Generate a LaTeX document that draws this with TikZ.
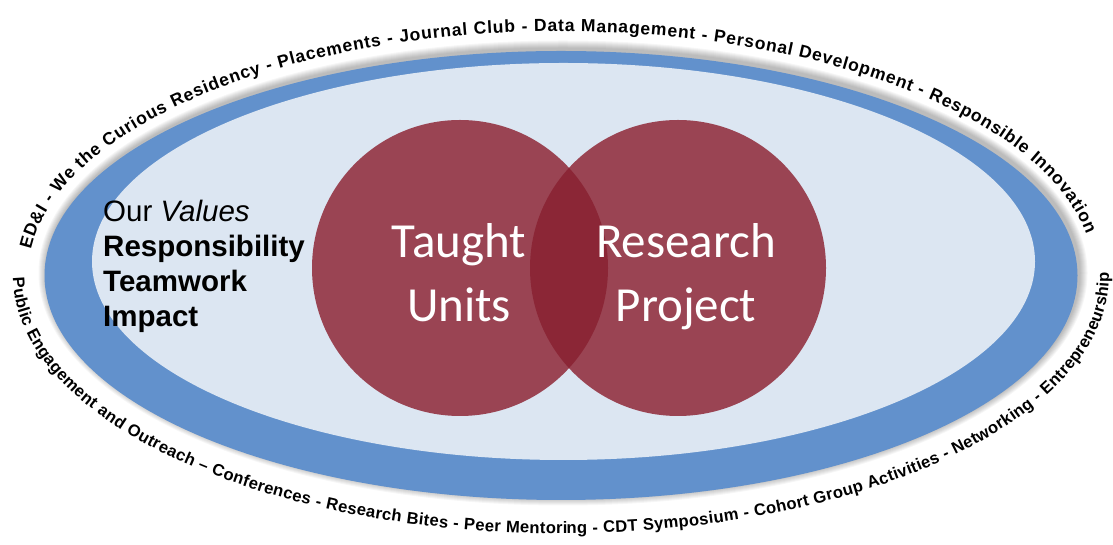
\documentclass[tikz,border=0pt]{standalone}
\usepackage{fontspec}
\setmainfont{Liberation Sans}
\newfontfamily\calib{Carlito}
\usetikzlibrary{decorations.text}
\definecolor{ringblue}{RGB}{98,145,204}
\definecolor{paleblue}{RGB}{220,230,242}
\definecolor{venn}{RGB}{154,68,83}
\definecolor{vennover}{RGB}{139,38,54}
\newcommand{\arcfont}{\bfseries\fontsize{17.5}{19}\selectfont}
\newcommand{\lowarcfont}{\bfseries\fontsize{16.6}{18}\selectfont}
\begin{document}
\begin{tikzpicture}[x=1pt,y=1pt,
  vennlabel/.style={text=white, font=\calib\fontsize{49}{58}\selectfont, anchor=base, inner sep=0pt},
  valuelabel/.style={font=\fontsize{29.5}{34}\selectfont, anchor=base west, inner sep=0pt},
  vennbox/.style={circle, fill=venn, minimum size=296pt, inner sep=0pt},
  ]
\useasboundingbox (0,0) rectangle (1113,545);
\fill[white] (0,0) rectangle (1113,545);
% soft shadow around the ring
\foreach \k in {1,...,8}
  \fill[black, opacity=0.035] (563,272) ellipse [x radius=516.5+\k, y radius=224.5+\k];
% ring and interior
\fill[ringblue] (561,269.5) ellipse [x radius=516.5, y radius=224.5];
\fill[paleblue] (563.5,283.5) ellipse [x radius=471.5, y radius=198.5];
% Venn circles
\node[vennbox] (taught) at (460,277) {};
\node[vennbox] (research) at (678,277) {};
\begin{scope}
  \clip (taught.center) circle[radius=148];
  \fill[vennover] (research.center) circle[radius=148];
\end{scope}
% circle labels
\node[vennlabel] (taughtA) at (459,287) {Taught};
\node[vennlabel] (taughtB) at (459,223) {Units};
\node[vennlabel] (researchA) at (686,287) {Research};
\node[vennlabel] (researchB) at (686,223) {Project};
% values
\node[valuelabel] (values) at (103,323) {Our \textit{Values}};
\node[valuelabel] (resp) at (103,288) {\bfseries Responsibility};
\node[valuelabel] (team) at (103,253) {\bfseries Teamwork};
\node[valuelabel] (impact) at (103,218) {\bfseries Impact};
% curved texts
\path[decorate, decoration={text along path, text align={fit to path},
  text={|\arcfont|ED{\&}I - We the Curious Residency - Placements - Journal Club - Data Management - Personal Development - Responsible Innovation}}]
  (561,269.5) ++(174:533 and 244) arc[start angle=174, end angle=10, x radius=533, y radius=244];
\path[decorate, decoration={text along path, text align={fit to path},
  text={|\lowarcfont|Public Engagement and Outreach – Conferences -  Research Bites - Peer Mentoring - CDT Symposium -  Cohort Group Activities - Networking - Entrepreneurship}}]
  (561,269.5) ++(180.5:548 and 258) arc[start angle=180.5, end angle=360.5, x radius=548, y radius=258];
\end{tikzpicture}
\end{document}
